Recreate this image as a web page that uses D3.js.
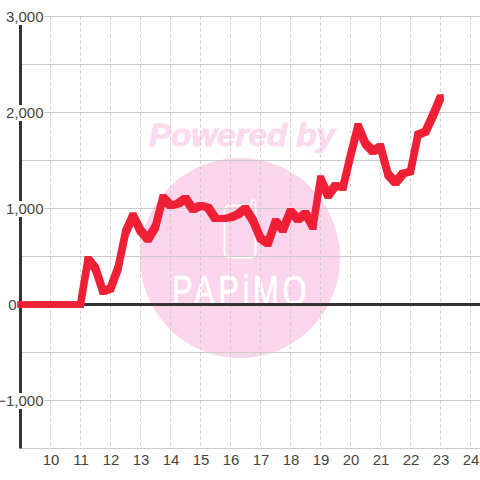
<!DOCTYPE html>
<html>
    <head>
        <meta charset="utf-8">
        <title>Line chart</title>
        <style>
            html {font-family: "Liberation Sans", Arial, sans-serif;}
            body {margin: 0;padding: 0;overflow: hidden;background: #fff;}
            svg {display: block;}
            .tick-label {font-size: 15px;fill: #444;}
        </style>
        <script src="https://cdnjs.cloudflare.com/ajax/libs/d3/7.8.5/d3.min.js"></script>
    </head>
    <body>
        <div id="chart"></div>
        <script type="text/javascript">
            var hours = [9, 9.25, 9.5, 9.75, 10, 10.25, 10.5, 10.75, 11, 11.25, 11.5, 11.75,
                12, 12.25, 12.5, 12.75, 13, 13.25, 13.5, 13.75, 14, 14.25, 14.5, 14.75,
                15, 15.25, 15.5, 15.75, 16, 16.25, 16.5, 16.75, 17, 17.25, 17.5, 17.75,
                18, 18.25, 18.5, 18.75, 19, 19.25, 19.5, 19.75, 20, 20.25, 20.5, 20.75,
                21, 21.25, 21.5, 21.75, 22, 22.25, 22.5, 22.75, 23];
            var values = [0, 0, 0, 0, 0, 0, 0, 0, 0, 472, 375, 135,
                165, 375, 750, 925, 770, 680, 810, 1115, 1030, 1050, 1105, 990,
                1030, 1010, 895, 895, 905, 940, 1000, 875, 690, 635, 865, 780,
                970, 885, 950, 810, 1310, 1135, 1240, 1220, 1550, 1855, 1675, 1595,
                1645, 1355, 1270, 1365, 1385, 1770, 1800, 1970, 2155];
            var xTicks = [10, 11, 12, 13, 14, 15, 16, 17, 18, 19, 20, 21, 22, 23, 24];
            var yTicks = [-1000, 0, 1000, 2000, 3000];
            var yGrid = [-1500, -1000, -500, 0, 500, 1000, 1500, 2000, 2500, 3000];

            var width = 480, height = 480;

            // 30px per hour, 96px per 1000
            var x = d3.scaleLinear().domain([9, 24]).range([20.5, 470.5]);
            var y = d3.scaleLinear().domain([-1500, 3000]).range([448.5, 16.5]);

            var svg = d3.select("#chart").append("svg")
                    .attr("width", width)
                    .attr("height", height);

            // Watermark goes under everything else
            var mark = svg.append("g");
            mark.append("circle")
                .attr("cx", 240).attr("cy", 258).attr("r", 100)
                .attr("fill", "#fbd5ec");
            mark.append("text")
                .attr("x", 149).attr("y", 146)
                .attr("font-size", 31)
                .attr("font-weight", "bold")
                .attr("font-style", "italic")
                .attr("textLength", 186)
                .attr("lengthAdjust", "spacingAndGlyphs")
                .attr("fill", "#fbd9ef")
                .attr("stroke", "#fbd9ef")
                .attr("stroke-width", 0.9)
                .text("Powered by");
            mark.append("rect")
                .attr("x", 224.5).attr("y", 205.5).attr("width", 31).attr("height", 52)
                .attr("rx", 5)
                .attr("fill", "none")
                .attr("stroke", "#fff")
                .attr("stroke-width", 2);
            mark.append("rect")
                .attr("x", 251).attr("y", 200).attr("width", 4.5).attr("height", 24)
                .attr("rx", 2.2)
                .attr("fill", "#fbd5ec")
                .attr("stroke", "#fff")
                .attr("stroke-width", 1.5);
            mark.append("text")
                .attr("transform", "translate(172,305) scale(0.735,1)")
                .attr("font-size", 42)
                .attr("letter-spacing", 5)
                .attr("fill", "#fff")
                .attr("stroke", "#fff")
                .attr("stroke-width", 0.7)
                .text("PAPiMO");

            // Grid
            svg.append("g").selectAll("line")
                .data(yGrid)
                .enter().append("line")
                .attr("x1", x(9)).attr("x2", width)
                .attr("y1", function(d) {return y(d);})
                .attr("y2", function(d) {return y(d);})
                .attr("stroke", "#ccc");

            svg.append("g").selectAll("line")
                .data(xTicks)
                .enter().append("line")
                .attr("x1", function(d) {return x(d);})
                .attr("x2", function(d) {return x(d);})
                .attr("y1", y(3000)).attr("y2", y(-1500))
                .attr("stroke", "#ccc")
                .attr("stroke-dasharray", "3,3");

            // Axis lines
            svg.append("line")
                .attr("x1", x(9)).attr("x2", x(9))
                .attr("y1", y(3000)).attr("y2", y(-1500))
                .attr("stroke", "#333").attr("stroke-width", 3);
            svg.append("line")
                .attr("x1", x(9)).attr("x2", width)
                .attr("y1", y(0)).attr("y2", y(0))
                .attr("stroke", "#333").attr("stroke-width", 3);

            // Tick labels, the y ones sit on white boxes that cut the axis
            var yAxis = svg.append("g")
                .attr("transform", "translate(" + x(9) + ",0)")
                .call(d3.axisLeft(y).tickValues(yTicks).tickFormat(d3.format(",")).tickSize(0).tickPadding(-23));
            yAxis.select(".domain").remove();
            yAxis.selectAll("text").attr("class", "tick-label").attr("font-family", null).attr("font-size", null);
            // the 0 label sits further left than the others
            yAxis.selectAll("text").filter(function(d) {return d === 0;}).attr("x", -4);
            yAxis.selectAll(".tick").each(function() {
                var t = d3.select(this);
                var b = t.select("text").node().getBBox();
                t.insert("rect", "text")
                    .attr("x", b.x - 1).attr("y", -8)
                    .attr("width", b.width + 2).attr("height", 16)
                    .attr("fill", "#fff");
            });

            var xAxis = svg.append("g")
                .attr("transform", "translate(0," + y(-1500) + ")")
                .call(d3.axisBottom(x).tickValues(xTicks).tickFormat(d3.format("d")).tickSize(0).tickPadding(6));
            xAxis.select(".domain").remove();
            xAxis.selectAll("text").attr("class", "tick-label").attr("font-family", null).attr("font-size", null);

            // The line has a square pen: flat ends and fatter diagonals.
            // Each segment is the hull of the pen at its two end points.
            var pen = 3.3;
            var points = values.map(function(d, i) {return [x(hours[i]), y(d)];});
            function penCorners(p) {
                return [[p[0] - pen, p[1] - pen], [p[0] + pen, p[1] - pen],
                        [p[0] - pen, p[1] + pen], [p[0] + pen, p[1] + pen]];
            }
            svg.append("g").selectAll("path")
                .data(d3.pairs(points))
                .enter().append("path")
                .attr("d", function(d) {
                    return "M" + d3.polygonHull(penCorners(d[0]).concat(penCorners(d[1]))).join("L") + "Z";
                })
                .attr("fill", "#ef1f36");
        </script>
    </body>
</html>
